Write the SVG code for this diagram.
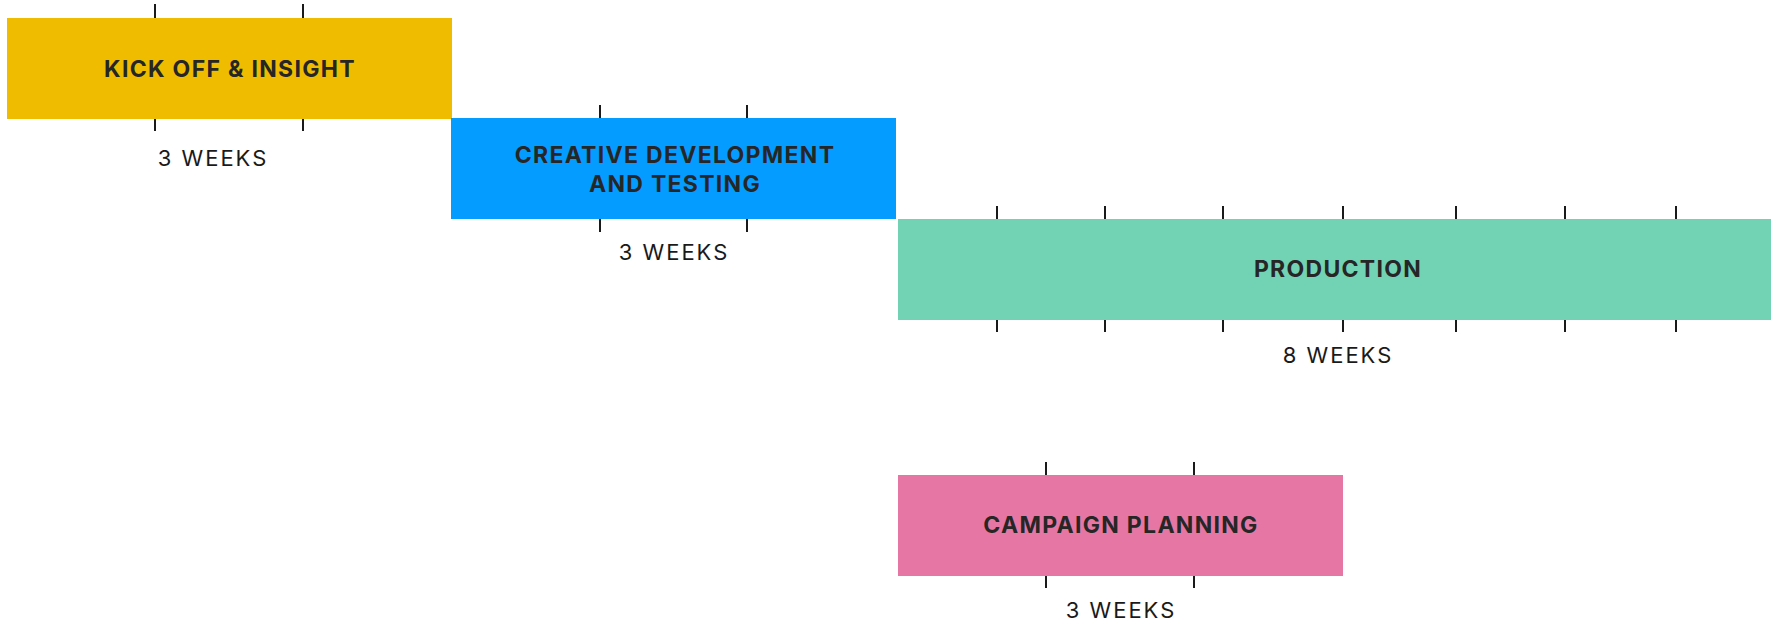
<svg xmlns="http://www.w3.org/2000/svg" width="1779" height="623" viewBox="0 0 1779 623">
<style>
.lbl{font-family:Inter,"Open Sans","Liberation Sans",sans-serif;font-weight:700;font-size:23px;letter-spacing:1.3px;fill:#262626;text-anchor:middle}
.dur{font-family:Inter,"Open Sans","Liberation Sans",sans-serif;font-weight:400;font-size:22px;letter-spacing:2px;fill:#1a1a1a;text-anchor:middle}
.tick{stroke:#1a1a1a;stroke-width:2;fill:none}
</style>
<rect width="1779" height="623" fill="#ffffff"/>
<g id="kickoff">
<rect x="7" y="18" width="445" height="101" fill="#F0BC00"/>
<path class="tick" d="M155 4V18M303 4V18M155 119V131M303 119V131"/>
<text class="lbl" x="230" y="77">KICK OFF &amp; INSIGHT</text>
<text class="dur" x="213" y="166">3 WEEKS</text>
</g>
<g id="creative">
<rect x="451" y="118" width="445" height="101" fill="#059CFF"/>
<path class="tick" d="M600 105V118M747 105V118M600 219V232M747 219V232"/>
<text class="lbl" x="675" y="163">CREATIVE DEVELOPMENT</text>
<text class="lbl" x="675" y="192">AND TESTING</text>
<text class="dur" x="674" y="260">3 WEEKS</text>
</g>
<g id="production">
<rect x="898" y="219" width="873" height="101" fill="#71D3B4"/>
<path class="tick" d="M997 206V219M1105 206V219M1223 206V219M1343 206V219M1456 206V219M1565 206V219M1676 206V219M997 320V332M1105 320V332M1223 320V332M1343 320V332M1456 320V332M1565 320V332M1676 320V332"/>
<text class="lbl" x="1338" y="277">PRODUCTION</text>
<text class="dur" x="1338" y="363">8 WEEKS</text>
</g>
<g id="campaign">
<rect x="898" y="475" width="445" height="101" fill="#E677A4"/>
<path class="tick" d="M1046 462V475M1194 462V475M1046 576V588M1194 576V588"/>
<text class="lbl" x="1121" y="533">CAMPAIGN PLANNING</text>
<text class="dur" x="1121" y="618">3 WEEKS</text>
</g>
<g id="connectors"/>
</svg>
